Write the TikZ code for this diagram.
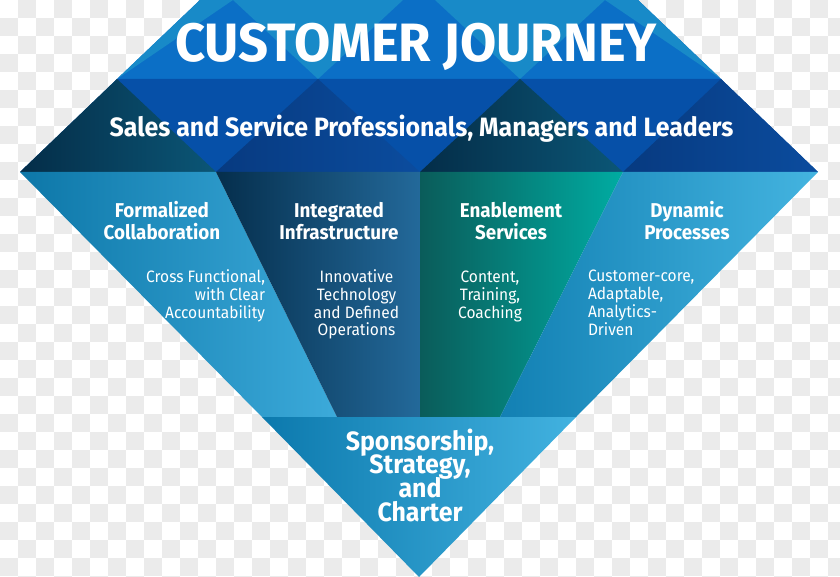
\documentclass[tikz,border=0pt]{standalone}
\usepackage{fontspec}
\setmainfont{Fira Sans}[FakeStretch=0.94]
\makeatletter
\newcommand\linesc[2]{\vtop{\baselineskip=#1\lineskiplimit=-100pt\lineskip=0pt\halign{\hfil##\hfil\cr#2\crcr}}}
\newcommand\linesl[2]{\vtop{\baselineskip=#1\lineskiplimit=-100pt\lineskip=0pt\halign{##\hfil\cr#2\crcr}}}
\newcommand\linesr[2]{\vtop{\baselineskip=#1\lineskiplimit=-100pt\lineskip=0pt\halign{\hfil##\cr#2\crcr}}}
\makeatother
\definecolor{checkgray}{HTML}{EBEBEB}
\definecolor{rowonebase}{HTML}{0B6FC6}
\definecolor{rowonelight}{HTML}{188AC8}
\definecolor{rowtwobase}{HTML}{0650A8}
\definecolor{tealdarkL}{HTML}{042D48}
\definecolor{tealdarkR}{HTML}{0B5676}
\definecolor{navyL}{HTML}{073A80}
\definecolor{navyR}{HTML}{0B4C9E}
\definecolor{colaL}{HTML}{0D77A8}
\definecolor{colaR}{HTML}{3CAADA}
\definecolor{colbL}{HTML}{052E4C}
\definecolor{colbR}{HTML}{23699A}
\definecolor{colcL}{HTML}{0A5C5A}
\definecolor{colcR}{HTML}{00ACA2}
\definecolor{coldL}{HTML}{1280B3}
\definecolor{coldR}{HTML}{44B4E0}
\definecolor{botL}{HTML}{0C79AD}
\definecolor{botR}{HTML}{42B2E0}
\tikzset{
  txt/.style={text=white, inner sep=0pt, outer sep=0pt},
  headtxt/.style={txt, anchor=base, font={\fontsize{20}{21.5}\selectfont\bfseries}},
  subtxt/.style={txt, font={\fontsize{16.5}{18}\selectfont}},
}
\begin{document}
\begin{tikzpicture}[x=1pt,y=-1pt]
\useasboundingbox (0,0) rectangle (840,577);
% transparency checkerboard
\begin{scope}
\clip (0,0) rectangle (840,577);
\fill[white] (0,0) rectangle (840,577);
\foreach \j in {0,...,32}{
  \foreach \i in {0,...,46}{
    \pgfmathtruncatemacro\s{\i+\j}
    \ifodd\s \fill[checkgray] (\i*18,\j*18) rectangle ++(18,18); \fi
  }
}
\end{scope}
% key points
\coordinate (tl) at (200,0);
\coordinate (tr) at (638,0);
\coordinate (ml) at (117,79);
\coordinate (mr) at (721,79);
\coordinate (bl) at (20,172);
\coordinate (br) at (818,172);
\coordinate (lowl) at (262,417);
\coordinate (lowr) at (576,417);
\coordinate (apex) at (419,577);
% row 1 (title band)
\fill[rowonebase] (tl) -- (tr) -- (mr) -- (ml) -- cycle;
\fill[rowonelight] (tl) -- (233,0) -- (ml) -- cycle;
\fill[rowonelight] (233,0) -- (403,0) -- (318,79) -- cycle;
\fill[rowonelight] (435,0) -- (605,0) -- (520,79) -- cycle;
\fill[rowonelight] (605,0) -- (tr) -- (mr) -- cycle;
% row 2 (sales band)
\fill[rowtwobase] (ml) -- (mr) -- (br) -- (bl) -- cycle;
\shade[left color=tealdarkL, right color=tealdarkR] (bl) -- (ml) -- (216,172) -- cycle;
\shade[left color=navyL, right color=navyR] (216,172) -- (318,79) -- (420,172) -- cycle;
\shade[left color=tealdarkL, right color=tealdarkR] (420,172) -- (520,79) -- (623,172) -- cycle;
\shade[left color=navyL, right color=navyR] (623,172) -- (mr) -- (br) -- cycle;
% middle columns
\shade[left color=colaL, right color=colaR] (bl) -- (216,172) -- (337,417) -- (lowl) -- cycle;
\shade[left color=colbL, right color=colbR] (216,172) -- (420,172) -- (420,417) -- (337,417) -- cycle;
\shade[left color=colcL, right color=colcR] (420,172) -- (623,172) -- (500,417) -- (420,417) -- cycle;
\shade[left color=coldL, right color=coldR] (623,172) -- (br) -- (lowr) -- (500,417) -- cycle;
% bottom triangle
\shade[left color=botL, right color=botR] (lowl) -- (lowr) -- (apex) -- cycle;
% texts
\node (title) [txt, anchor=base, font={\fontsize{54}{54}\selectfont\bfseries}] at (416,62) {\scalebox{1.035}[1]{CUSTOMER JOURNEY}};
\node (sales) [txt, anchor=base, font={\fontsize{26.5}{30}\selectfont\bfseries}] at (421.5,137) {Sales and Service Professionals, Managers and Leaders};
\node (fc) [headtxt] at (162,218) {\linesc{21.5pt}{Formalized\cr Collaboration}};
\node (ii) [headtxt] at (339,218) {\linesc{21.5pt}{Integrated\cr Infrastructure}};
\node (es) [headtxt] at (511,218) {\linesc{21.5pt}{Enablement\cr Services}};
\node (dp) [headtxt] at (687,218) {\linesc{21.5pt}{Dynamic\cr Processes}};
\node (cf) [subtxt, anchor=base east] at (265,282) {\linesr{18pt}{Cross Functional,\cr with Clear\cr Accountability}};
\node (it) [subtxt, anchor=base] at (356.5,282) {\linesc{18pt}{Innovative\cr Technology\cr and Defined\cr Operations}};
\node (ct) [subtxt, anchor=base] at (490,282) {\linesc{18pt}{Content,\cr Training,\cr Coaching}};
\node (cc) [subtxt, anchor=base west] at (588,281) {\linesl{18pt}{Customer-core,\cr Adaptable,\cr Analytics-\cr Driven}};
\node (sp) [txt, anchor=base, font={\fontsize{26.5}{24}\selectfont\bfseries}] at (420,450) {\linesc{23.7pt}{Sponsorship,\cr Strategy,\cr and\cr Charter}};
\end{tikzpicture}
\end{document}
